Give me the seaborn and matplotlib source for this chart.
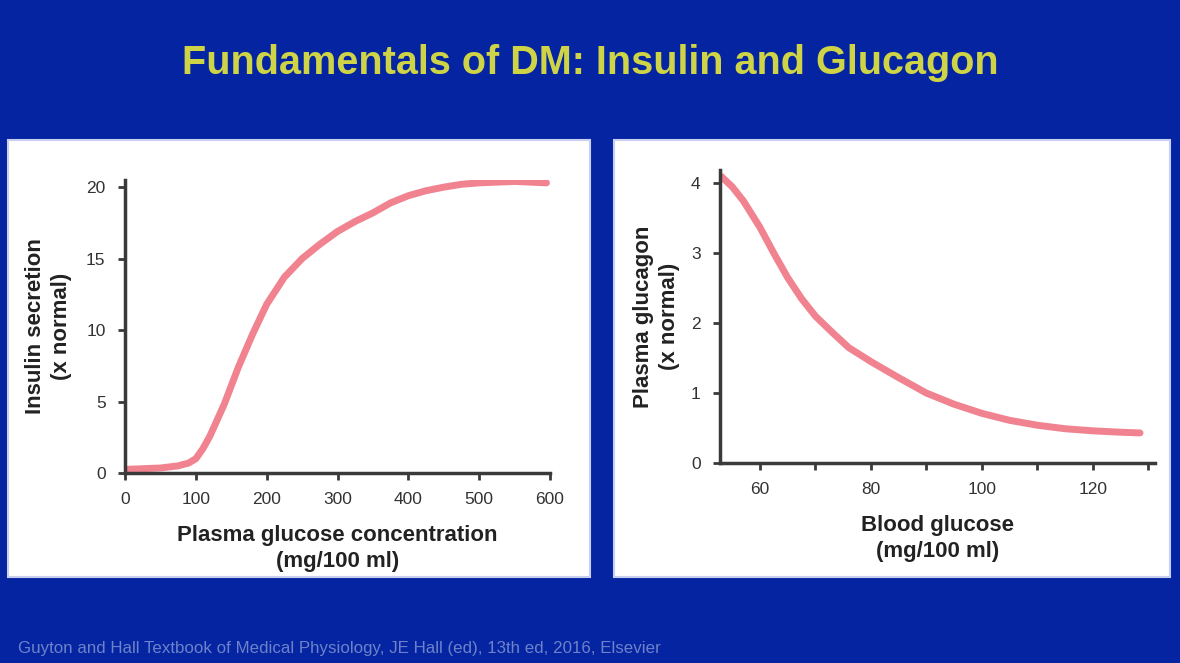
import numpy as np
import pandas as pd
import matplotlib
matplotlib.use("Agg")
import matplotlib.pyplot as plt
from matplotlib.patches import Rectangle
from matplotlib.ticker import MultipleLocator
import seaborn as sns

# insulin secretion vs plasma glucose (left panel)
insulin_glucose = [0, 25, 50, 75, 90, 100, 110, 120, 140, 160, 180, 200, 225,
                   250, 275, 300, 325, 350, 375, 400, 425, 450, 475, 500, 550,
                   595]
insulin_secretion = [0.25, 0.3, 0.35, 0.5, 0.7, 1.0, 1.7, 2.6, 4.8, 7.4, 9.7,
                     11.8, 13.7, 15.0, 16.0, 16.9, 17.6, 18.2, 18.9, 19.4,
                     19.75, 20.0, 20.2, 20.3, 20.4, 20.3]

# plasma glucagon vs blood glucose (right panel)
glucagon_glucose = [53, 55, 57, 58.5, 60, 62.5, 65, 67.5, 70, 73, 76, 80, 85,
                    90, 95, 100, 105, 110, 115, 120, 125, 128.5]
glucagon_level = [4.1, 3.95, 3.75, 3.56, 3.37, 3.0, 2.65, 2.35, 2.1, 1.87,
                  1.65, 1.45, 1.22, 1.0, 0.84, 0.71, 0.61, 0.54, 0.49, 0.46,
                  0.44, 0.43]

left_xticks = [0, 100, 200, 300, 400, 500, 600]
left_yticks = [0, 5, 10, 15, 20]
right_xticks = [60, 80, 100, 120]
right_yticks = [0, 1, 2, 3, 4]

title = "Fundamentals of DM: Insulin and Glucagon"
footer = ("Guyton and Hall Textbook of Medical Physiology, JE Hall (ed), "
          "13th ed, 2016, Elsevier")

bg = "#0424a2"
line_color = "#f0838f"
axis_color = "#3a3a3a"

sns.set_style("white")
plt.rcParams["font.family"] = ["Liberation Sans", "DejaVu Sans"]

fig = plt.figure(figsize=(11.8, 6.63), dpi=100)
fig.patch.set_facecolor(bg)

W, H = 1180, 663


def px_rect(x0, y0, x1, y1):
    return [x0 / W, 1 - y1 / H, (x1 - x0) / W, (y1 - y0) / H]


# white panels behind the charts
for (x0, y0, x1, y1) in [(8, 140, 590, 577), (614, 140, 1170, 577)]:
    r = px_rect(x0, y0, x1, y1)
    fig.add_artist(Rectangle((r[0], r[1]), r[2], r[3], transform=fig.transFigure,
                             facecolor="white", edgecolor="#c8cfee", lw=1.5,
                             zorder=0))

fig.text(0.5, 1 - 63 / H, title, ha="center", va="center", fontsize=28.5,
         color="#cfd447", fontweight="bold")
fig.text(18 / W, 1 - 648 / H, footer, ha="left", va="center", fontsize=12.2,
         color="#6d82c9")

df_ins = pd.DataFrame({"glucose": insulin_glucose, "insulin": insulin_secretion})
df_glu = pd.DataFrame({"glucose": glucagon_glucose, "glucagon": glucagon_level})

label_kw = dict(fontsize=16, fontweight="bold", color="#222222",
                linespacing=1.3)

ax1 = fig.add_axes(px_rect(125, 180, 550, 473))
sns.lineplot(data=df_ins, x="glucose", y="insulin", ax=ax1, color=line_color,
             lw=5, solid_capstyle="round")
ax1.set_xlim(0, 600)
ax1.set_ylim(0, 20.5)
ax1.set_xticks(left_xticks)
ax1.set_yticks(left_yticks)
ax1.set_xlabel("Plasma glucose concentration\n(mg/100 ml)", labelpad=13,
               **label_kw)
ax1.set_ylabel("Insulin secretion\n(x normal)", labelpad=10, **label_kw)

ax2 = fig.add_axes(px_rect(720, 170, 1155, 463))
sns.lineplot(data=df_glu, x="glucose", y="glucagon", ax=ax2, color=line_color,
             lw=5, solid_capstyle="round")
ax2.set_xlim(52.8, 131.2)
ax2.set_ylim(0, 4.19)
ax2.set_xticks(right_xticks)
ax2.xaxis.set_minor_locator(MultipleLocator(10))
ax2.set_yticks(right_yticks)
ax2.set_xlabel("Blood glucose\n(mg/100 ml)", labelpad=13, **label_kw)
ax2.set_ylabel("Plasma glucagon\n(x normal)", labelpad=8, **label_kw)

for ax in (ax1, ax2):
    ax.set_facecolor("white")
    sns.despine(ax=ax)
    for s in ("left", "bottom"):
        ax.spines[s].set_color(axis_color)
        ax.spines[s].set_linewidth(2.5)
    ax.tick_params(axis="both", which="both", direction="out", length=5,
                   width=2, color=axis_color, labelsize=12.5,
                   labelcolor="#333333", pad=9, left=True, bottom=True)
    ax.tick_params(axis="x", which="minor", length=5)

fig.savefig("out.png", dpi=100, facecolor=bg)
